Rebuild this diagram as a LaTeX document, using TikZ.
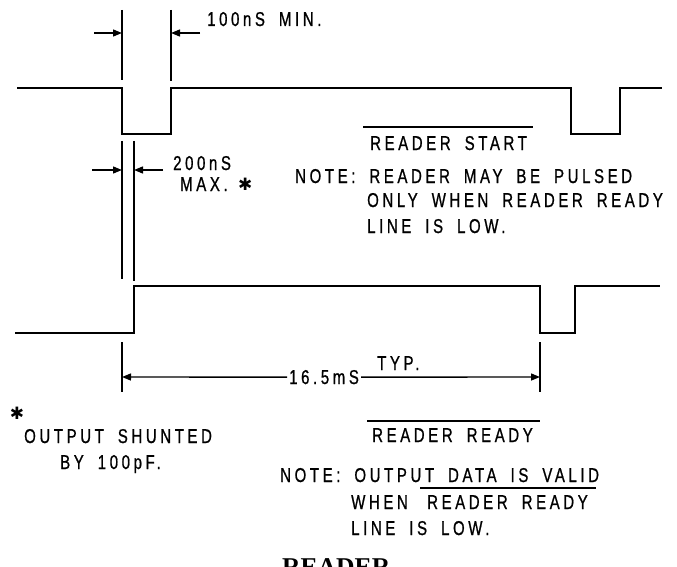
\documentclass[tikz,border=0pt]{standalone}
\usepackage{fontspec}
\usepackage{tikz}
\usetikzlibrary{arrows.meta}
\newfontfamily\lettering[FakeStretch=0.75,FakeBold=0.8,LetterSpace=18,WordSpace=1.8]{Liberation Sans}
\newfontfamily\starfont{DejaVu Sans}
\newfontfamily\titlefont{Liberation Serif}

\tikzset{
  wave/.style={line width=2.8pt, line join=miter},
  dim/.style={line width=1.4pt},
  dimarrow/.style={dim, -{Triangle[length=9pt,width=7pt]}},
  lbl/.style={anchor=base west, inner sep=0pt,
    font={\lettering\fontsize{20}{22}\selectfont}},
  star/.style={inner sep=0pt, font={\starfont\fontsize{17}{17}\selectfont}},
}

\begin{document}
\begin{tikzpicture}[x=1pt, y=-1pt]
    \useasboundingbox (0, 0) rectangle (677, 567);

    % waveforms
    \draw[wave] (17, 88) -- (122, 88) -- (122, 134) -- (171, 134) -- (171, 88)
          -- (571, 88) -- (571, 134) -- (620, 134) -- (620, 88) -- (662, 88);
    \draw[wave] (15, 333) -- (134, 333) -- (134, 286) -- (540, 286)
          -- (540, 333) -- (575, 333) -- (575, 286) -- (660, 286);

    % extension lines
    \draw[dim] (122, 10) -- (122, 80)
               (171, 10) -- (171, 81)
               (122, 141) -- (122, 279)
               (134, 141) -- (134, 281)
               (122, 342) -- (122, 392)
               (540, 342) -- (540, 392);
    \draw[dimarrow] (94, 33) -- (122, 33);
    \draw[dimarrow] (200, 33) -- (171, 33);
    \draw[dimarrow] (92, 170) -- (122, 170);
    \draw[dimarrow] (163, 170) -- (134, 170);

    \node[lbl] (min) at (207, 26) {100nS MIN.};
    \node[lbl] (max) at (173, 170) {200nS};
    \node[lbl] (maxb) at (180, 191) {MAX.};
    \node[star, anchor=west] (maxstar) at (238, 184) {✱};

    \node[lbl] (start) at (370, 150) {READER START};
    \draw[dim] ([xshift=-7pt, yshift=9pt]start.north west)
            -- ([xshift=6pt, yshift=9pt]start.north east);
    \node[lbl] (notea) at (295, 183) {NOTE: READER MAY BE PULSED};
    \node[lbl] (noteb) at (367, 207) {ONLY WHEN READER READY};
    \node[lbl] (notec) at (367, 233) {LINE IS LOW.};

    \node[lbl] (time) at (289, 384) {16.5mS};
    \node[lbl] (typ) at (377, 370) {TYP.};
    \draw[dimarrow] ([xshift=-2pt]time.west) -- (122, 377);
    \draw[dimarrow] ([xshift=2pt]time.east) -- (540, 377);

    \node[star] (foot) at (17, 413) {✱};
    \node[lbl] (shunt) at (24, 443) {OUTPUT SHUNTED};
    \node[lbl] (by) at (60, 469) {BY 100pF.};

    \node[lbl] (ready) at (372, 442) {READER READY};
    \draw[dim] ([xshift=-5pt, yshift=7pt]ready.north west)
            -- ([xshift=7pt, yshift=7pt]ready.north east);
    \node[lbl] (valid) at (280, 482) {NOTE: OUTPUT DATA IS VALID};
    \node[lbl] (when) at (351, 509) {WHEN};
    \node[lbl] (readyb) at (427, 509) {READER READY};
    \draw[dim] ([xshift=-7pt, yshift=7pt]readyb.north west)
            -- ([xshift=8pt, yshift=7pt]readyb.north east);
    \node[lbl] (low) at (351, 535) {LINE IS LOW.};

    \node[anchor=base west, inner sep=0pt,
          font={\titlefont\bfseries\fontsize{25.6}{28}\selectfont}] (title) at (282, 575) {READER};
\end{tikzpicture}
\end{document}
